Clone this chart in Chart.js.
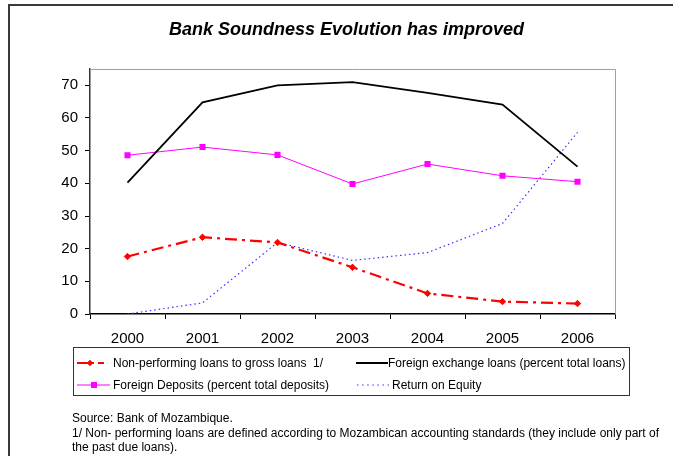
<!DOCTYPE html>
<html>
<head>
<meta charset="utf-8">
<script src="https://cdn.jsdelivr.net/npm/chart.js@4"></script>
<style>
  html, body { margin: 0; padding: 0; background: #fff; }
  body { width: 673px; height: 456px; position: relative; overflow: hidden;
         font-family: "Liberation Sans", Arial, sans-serif; color: #000; }
  #frame { position: absolute; left: 8px; top: 4px; width: 700px; height: 500px;
           border: 2px solid #3a3a3a; box-sizing: border-box; }
  #chart { position: absolute; left: 0; top: 0; }
  #title { position: absolute; left: 0; width: 693px; top: 19px; text-align: center;
           font-weight: bold; font-style: italic; font-size: 18px; }
  #legend { position: absolute; left: 73px; top: 347px; width: 557px; height: 49px;
            border: 1px solid #333; box-sizing: border-box; font-size: 12px; }
  .item { position: absolute; white-space: nowrap; line-height: 14px; }
  .item svg { position: absolute; top: 0; }
  .item span { position: absolute; top: 0; white-space: pre; }
  #notes { position: absolute; left: 72px; top: 411px; font-size: 12px; line-height: 14.5px; white-space: nowrap; }
</style>
</head>
<body>
<div id="frame"></div>
<canvas id="chart" width="673" height="456"></canvas>
<div id="title">Bank Soundness Evolution has improved</div>
<div id="legend"></div>
<div id="notes">Source: Bank of Mozambique.<br>1/ Non- performing loans are defined according to Mozambican accounting standards (they include only part of<br>the past due loans).</div>
<script>
// Years on the category axis
const years = ['2000', '2001', '2002', '2003', '2004', '2005', '2006'];

// Series, in percent
const nonPerformingLoans = [17.6, 23.5, 21.9, 14.3, 6.3, 3.8, 3.2];
const foreignExchangeLoans = [40.2, 64.8, 70.0, 71.0, 67.7, 64.1, 45.1];
const foreignDeposits = [48.6, 51.1, 48.7, 39.8, 45.9, 42.3, 40.5];
const returnOnEquity = [0.0, 3.4, 21.9, 16.4, 18.8, 27.7, 55.6];

// Series names as shown in the key
const seriesNames = [
  'Non-performing loans to gross loans  1/',
  'Foreign exchange loans (percent total loans)',
  'Foreign Deposits (percent total deposits)',
  'Return on Equity'
];

// Value axis ticks
const yTicks = [0, 10, 20, 30, 40, 50, 60, 70];

const RED = '#ff0000', BLACK = '#000000', MAGENTA = '#ff00ff', BLUE = '#3333ff';

// Light grey frame on the top and right edges of the plot area
const plotFrame = {
  id: 'plotFrame',
  beforeDatasetsDraw(chart) {
    const { ctx, chartArea: a } = chart;
    ctx.save();
    ctx.strokeStyle = '#a0a0a0';
    ctx.lineWidth = 1;
    ctx.beginPath();
    ctx.moveTo(a.left, a.top + 0.5);
    ctx.lineTo(a.right + 0.5, a.top + 0.5);
    ctx.lineTo(a.right + 0.5, a.bottom);
    ctx.stroke();
    ctx.restore();
  }
};

new Chart(document.getElementById('chart'), {
  type: 'line',
  data: {
    labels: years,
    datasets: [
      { label: seriesNames[0], data: nonPerformingLoans, borderColor: RED, backgroundColor: RED,
        borderWidth: 2.2, borderDash: [12, 5, 3, 5], pointStyle: 'rectRot', pointRadius: 3.2,
        pointBorderWidth: 1, tension: 0 },
      { label: seriesNames[1], data: foreignExchangeLoans, borderColor: BLACK, backgroundColor: BLACK,
        borderWidth: 1.8, pointRadius: 0, tension: 0 },
      { label: seriesNames[2], data: foreignDeposits, borderColor: MAGENTA, backgroundColor: MAGENTA,
        borderWidth: 1, pointStyle: 'rect', pointRadius: 4.3, pointBorderWidth: 0, tension: 0 },
      { label: seriesNames[3], data: returnOnEquity, borderColor: BLUE, backgroundColor: BLUE,
        borderWidth: 1.2, borderDash: [1.5, 3], pointRadius: 0, tension: 0 }
    ]
  },
  options: {
    responsive: false,
    animation: false,
    devicePixelRatio: 1,
    layout: { padding: { left: 40, right: 58, top: 69, bottom: 112 } },
    plugins: { legend: { display: false }, title: { display: false }, tooltip: { enabled: false } },
    scales: {
      x: {
        type: 'category',
        offset: true,
        grid: { display: true, drawOnChartArea: false, offset: true, tickLength: 5, color: '#000', lineWidth: 1 },
        border: { display: true, color: '#000', width: 1.5 },
        ticks: { color: '#000', font: { family: 'Liberation Sans', size: 15 }, padding: 11, maxRotation: 0 },
        afterFit(s) { s.height = 30; }
      },
      y: {
        min: 0,
        max: 75,
        afterBuildTicks(s) { s.ticks = yTicks.map(v => ({ value: v })); },
        grid: { display: true, drawOnChartArea: false, tickLength: 5, color: '#000', lineWidth: 1 },
        border: { display: true, color: '#333', width: 1.5 },
        ticks: { color: '#000', font: { family: 'Liberation Sans', size: 15 }, padding: 7 },
        afterFit(s) { s.width = 50; }
      }
    }
  },
  plugins: [plotFrame]
});

// Key below the plot: line samples drawn in SVG next to each name
const legendLayout = [
  { name: seriesNames[0], x: 3, y: 8, w: 27, tx: 39,
    svg: '<line x1="0" y1="7" x2="17" y2="7" stroke="' + RED + '" stroke-width="2"/>' +
         '<line x1="21" y1="7" x2="27" y2="7" stroke="' + RED + '" stroke-width="2"/>' +
         '<path d="M13 3.8 L16.2 7 L13 10.2 L9.8 7 Z" fill="' + RED + '"/>' },
  { name: seriesNames[1], x: 282, y: 8, w: 32, tx: 314,
    svg: '<line x1="0" y1="7" x2="32" y2="7" stroke="' + BLACK + '" stroke-width="2"/>' },
  { name: seriesNames[2], x: 3, y: 30, w: 33, tx: 39,
    svg: '<line x1="0" y1="7" x2="33" y2="7" stroke="' + MAGENTA + '" stroke-width="1"/>' +
         '<rect x="14" y="4" width="6" height="6" fill="' + MAGENTA + '"/>' },
  { name: seriesNames[3], x: 282, y: 30, w: 33, tx: 318,
    svg: '<line x1="1" y1="7" x2="33" y2="7" stroke="' + BLUE + '" stroke-width="1" stroke-dasharray="1.5 3.6"/>' }
];
const legendEl = document.getElementById('legend');
legendLayout.forEach(it => {
  const d = document.createElement('div');
  d.className = 'item';
  d.style.left = it.x + 'px';
  d.style.top = it.y + 'px';
  d.innerHTML = '<svg width="' + it.w + '" height="14" style="left:0">' + it.svg + '</svg>' +
    '<span style="left:' + (it.tx - it.x) + 'px">' + it.name + '</span>';
  legendEl.appendChild(d);
});
</script>
</body>
</html>
